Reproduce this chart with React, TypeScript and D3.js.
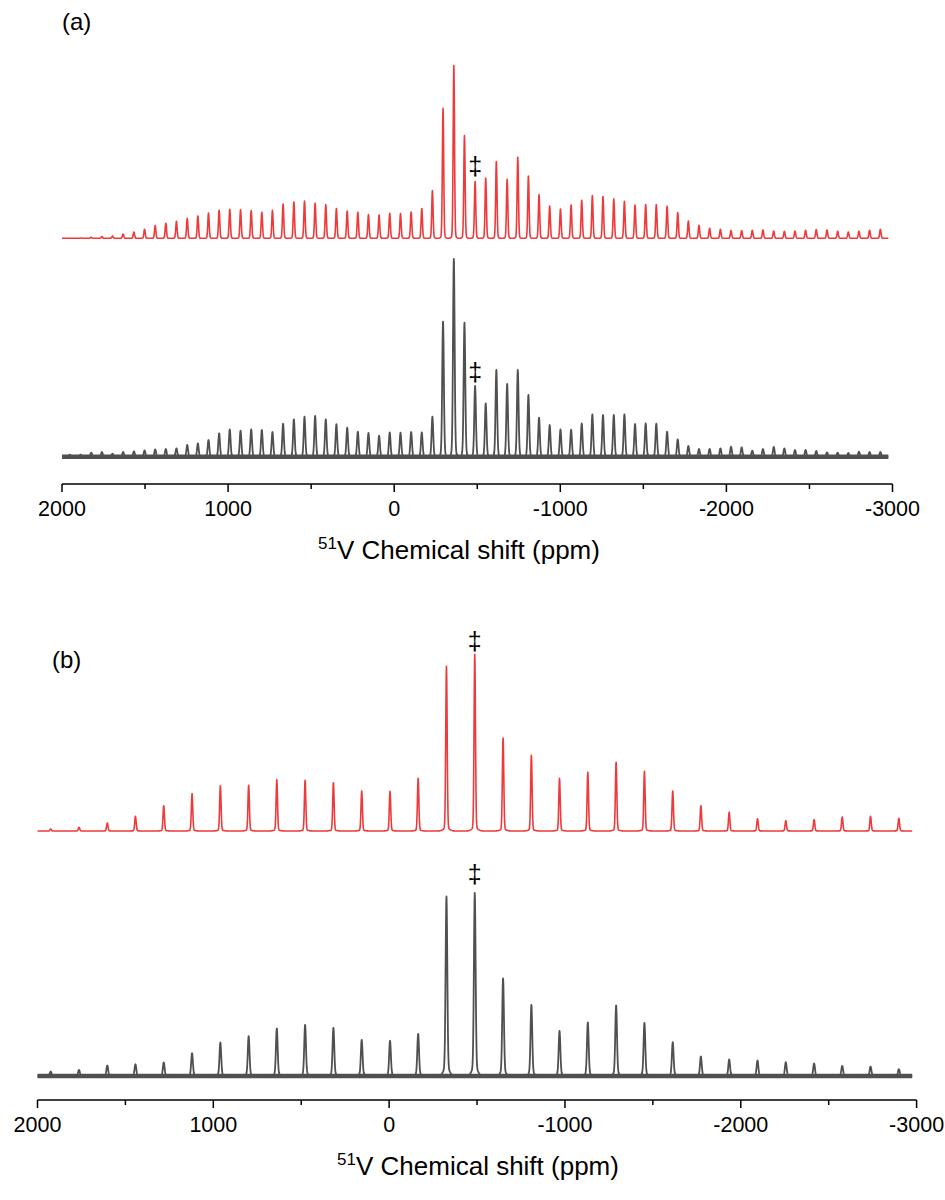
import React from "react";
import * as d3 from "d3";

// Sideband positions (ppm) and intensities (a.u.) for the slow-spinning spectra
const PPM_A = [
  1953, 1888, 1824, 1760, 1696, 1632, 1567, 1503, 1439, 1375, 1311, 1246, 1182, 1118, 1054, 990,
  925, 861, 797, 733, 669, 604, 540, 476, 412, 348, 283, 219, 155, 91, 27, -38,
  -102, -166, -230, -294, -359, -423, -487, -551, -615, -680, -744, -808, -872, -936, -1001, -1065,
  -1129, -1193, -1257, -1322, -1386, -1450, -1514, -1578, -1643, -1707, -1771, -1835, -1899, -1964, -2028, -2092,
  -2156, -2220, -2285, -2349, -2413, -2477, -2541, -2606, -2670, -2734, -2798, -2862, -2927,
];
const SIM_A = [
  0, 0.3, 1, 1.7, 2.3, 4.3, 6.3, 9, 12.7, 15, 17, 20, 22.3, 25.3, 28, 29,
  28.7, 27.7, 26, 28, 34.3, 36.3, 37.3, 35, 33.7, 29.7, 27.3, 26, 23.7, 23.3, 25, 24.7,
  26.3, 29.7, 47.7, 130, 172.7, 102.7, 56.7, 60.3, 76.7, 59, 81, 62.3, 43.7, 32.3, 29.3, 33.3,
  38, 42.7, 41.7, 39.3, 37, 33.3, 33.7, 33.7, 32, 25.7, 17.3, 13, 10, 9, 7.7, 7.7,
  8, 8.3, 7.3, 7, 7.3, 8, 8.7, 8.3, 7, 6.3, 7, 8, 9,
];
const EXP_A = [
  2, 2, 4, 4.7, 3, 4.7, 5.3, 6.3, 7.3, 7.7, 8.3, 11.7, 13.3, 16.7, 23.3, 27.3,
  26, 27.3, 26.7, 24.7, 33, 37.3, 40, 40.7, 37.3, 32.5, 29, 25, 23.7, 21, 24.3, 24,
  24.7, 24.3, 40, 135, 197.7, 134, 70.7, 53.3, 86.7, 72.7, 86.7, 61.7, 39, 31.7, 27.3, 27,
  33.3, 42.3, 41.7, 41.7, 42.3, 32.7, 33.3, 33, 25, 17.3, 10.7, 7.7, 7.7, 8.3, 10, 9.3,
  6, 7.7, 9.7, 8.3, 6.7, 6.7, 5.7, 4.3, 4, 3.7, 5, 4.7, 4.7,
];

// Sideband positions (ppm) and intensities (a.u.) for the fast-spinning spectra
const PPM_B = [
  1925, 1764, 1603, 1443, 1282, 1121, 960, 799, 639, 478, 317, 156, -5, -165, -326, -487,
  -648, -809, -969, -1130, -1291, -1452, -1613, -1773, -1934, -2095, -2256, -2417, -2577, -2738, -2899,
];
const SIM_B = [
  2, 3.7, 8, 14.7, 25.3, 37.3, 45.3, 45.7, 51.3, 50.7, 48.3, 40, 39.7, 52.7, 164.7, 176.7,
  93, 75.7, 52.7, 58.7, 68.7, 59.7, 40, 25.3, 18.7, 12.3, 10.3, 11.3, 14, 14.7, 12.7,
];
const EXP_B = [
  4.5, 6.2, 10.5, 11.8, 13.5, 22.8, 33.5, 39.8, 47.5, 51.2, 48.2, 36.2, 35.2, 42.2, 179.5, 183,
  97.5, 71.2, 45.2, 53.5, 70.5, 53.2, 33.8, 19.5, 16.5, 15.5, 13.8, 12.5, 10.2, 9.5, 6.8,
];

// Peaks carrying the ‡ marker
const MARK_PPM = -487;

const MAJOR_TICKS = [2000, 1000, 0, -1000, -2000, -3000];
const MINOR_TICKS = [1500, 500, -500, -1500, -2500];

const RED = "#EE3A3A";
const GREY = "#505050";
const FONT = "'Liberation Sans', Arial, sans-serif";

type Scale = d3.ScaleLinear<number, number>;

// Sum of narrow Gaussian lines sampled along the x axis
function spectrumPath(
  x: Scale,
  y: Scale,
  ppm: number[],
  amp: number[],
  sigmaPpm: number,
  footFrac: number,
  footSigmaPpm: number,
  fromPpm: number,
  toPpm: number
) {
  const x0 = x(fromPpm);
  const x1 = x(toPpm);
  const centers = ppm.map((p) => x(p));
  const k = Math.abs(x(0) - x(1));
  const s = sigmaPpm * k;
  const sf = footSigmaPpm * k;
  const xs = d3.range(x0, x1, 0.25).concat(centers.filter((c) => c >= x0 && c <= x1));
  xs.push(x1);
  xs.sort((a, b) => a - b);
  const pts: [number, number][] = xs.map((px) => {
    let v = 0;
    for (let i = 0; i < centers.length; i++) {
      const d = px - centers[i];
      if (Math.abs(d) > 6 * sf + 6 * s) continue;
      v +=
        amp[i] *
        ((1 - footFrac) * Math.exp(-(d * d) / (2 * s * s)) +
          footFrac * Math.exp(-(d * d) / (2 * sf * sf)));
    }
    return [px, y(v)];
  });
  return d3.line()(pts) || "";
}

type Trace = {
  ppm: number[];
  amp: number[];
  baseline: number;
  color: string;
  noisy: boolean;
  markY: number;
};

function Axis({ x, y, titleX }: { x: Scale; y: number; titleX: number }) {
  const [r0, r1] = x.range();
  return (
    <g>
      <line x1={r0} x2={r1} y1={y} y2={y} stroke="#000" strokeWidth={1.5} />
      {MAJOR_TICKS.map((t) => (
        <g key={t} transform={`translate(${x(t)},${y})`}>
          <line y1={0} y2={8} stroke="#000" strokeWidth={1.5} />
          <text y={32} textAnchor="middle" fontFamily={FONT} fontSize={21.5} fill="#000">
            {t}
          </text>
        </g>
      ))}
      {MINOR_TICKS.map((t) => (
        <line key={t} x1={x(t)} x2={x(t)} y1={y} y2={y + 5} stroke="#000" strokeWidth={1.5} />
      ))}
      <text x={titleX} y={y + 75} textAnchor="middle" fontFamily={FONT} fontSize={26} fill="#000">
        <tspan fontSize={17} dy={-10}>51</tspan>
        <tspan dy={10}>V Chemical shift (ppm)</tspan>
      </text>
    </g>
  );
}

function Panel({
  x,
  traces,
  axisY,
  titleX,
  sigma,
  footSigma,
  label,
  labelX,
  labelY,
}: {
  x: Scale;
  traces: Trace[];
  axisY: number;
  titleX: number;
  sigma: number;
  footSigma: number;
  label: string;
  labelX: number;
  labelY: number;
}) {
  return (
    <g>
      <text x={labelX} y={labelY} fontFamily={FONT} fontSize={24} fill="#000">
        {label}
      </text>
      {traces.map((tr, i) => {
        const y = d3.scaleLinear().domain([0, 100]).range([tr.baseline, tr.baseline - 100]);
        const d = spectrumPath(
          x,
          y,
          tr.ppm,
          tr.amp,
          tr.noisy ? sigma * 1.2 : sigma,
          tr.noisy ? 0.05 : 0.02,
          footSigma,
          2000,
          -2975
        );
        return (
          <g key={i}>
            {tr.noisy && (
              <line
                x1={x(2000)}
                x2={x(-2975)}
                y1={tr.baseline}
                y2={tr.baseline}
                stroke={tr.color}
                strokeWidth={4.5}
              />
            )}
            <path
              d={d}
              fill="none"
              stroke={tr.color}
              strokeWidth={tr.noisy ? 1.8 : 1.6}
              strokeLinejoin="round"
            />
            <text
              x={x(MARK_PPM)}
              y={tr.markY}
              textAnchor="middle"
              fontFamily={FONT}
              fontSize={25}
              fill="#000"
            >
              ‡
            </text>
          </g>
        );
      })}
      <Axis x={x} y={axisY} titleX={titleX} />
    </g>
  );
}

export default function App() {
  const xA = d3.scaleLinear().domain([2000, -3000]).range([62, 892.5]);
  const xB = d3.scaleLinear().domain([2000, -3000]).range([37.5, 916.6]);

  const tracesA: Trace[] = [
    { ppm: PPM_A, amp: SIM_A, baseline: 238.3, color: RED, noisy: false, markY: 175 },
    { ppm: PPM_A, amp: EXP_A, baseline: 456.7, color: GREY, noisy: true, markY: 381 },
  ];
  const tracesB: Trace[] = [
    { ppm: PPM_B, amp: SIM_B, baseline: 831, color: RED, noisy: false, markY: 650 },
    { ppm: PPM_B, amp: EXP_B, baseline: 1076, color: GREY, noisy: true, markY: 883 },
  ];

  return (
    <svg
      width={945}
      height={1200}
      viewBox="0 0 945 1200"
      style={{ position: "absolute", left: 0, top: 0, background: "#fff" }}
    >
      <rect width={945} height={1200} fill="#fff" />
      <Panel
        x={xA}
        traces={tracesA}
        axisY={484}
        titleX={459}
        sigma={4}
        footSigma={10}
        label="(a)"
        labelX={62}
        labelY={30}
      />
      <Panel
        x={xB}
        traces={tracesB}
        axisY={1100}
        titleX={478}
        sigma={4}
        footSigma={16}
        label="(b)"
        labelX={52}
        labelY={668}
      />
    </svg>
  );
}
